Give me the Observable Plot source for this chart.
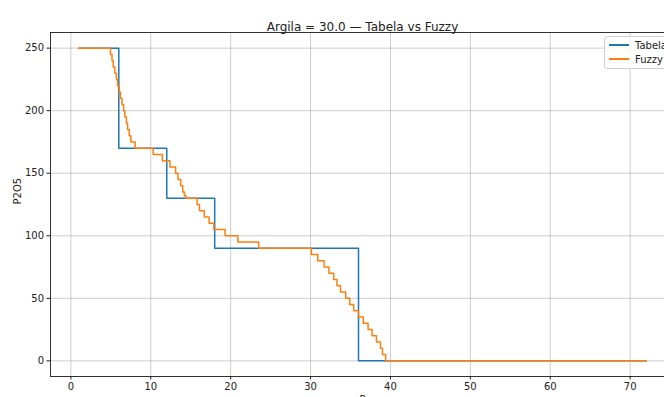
<!DOCTYPE html>
<html>
<head>
<meta charset="utf-8">
<script src="https://cdn.jsdelivr.net/npm/d3@7"></script>
<script src="https://cdn.jsdelivr.net/npm/@observablehq/plot@0.6"></script>
<style>
  html, body { margin: 0; padding: 0; background: #fff; overflow: hidden; width: 664px; height: 397px; }
  #wrap { position: relative; width: 664px; height: 397px; overflow: hidden; }
  #chart svg { max-width: none !important; display: block; }
  #legend { position: absolute; left: 604px; top: 36px; width: 80px; height: 31px; background: rgba(255,255,255,0.8);
            border: 1px solid #d0d0d0; border-radius: 3px; font: 10px "DejaVu Sans", sans-serif; color: #222; }
  .row { position: absolute; left: 4px; height: 12px; display: flex; align-items: center; }
  .sw { width: 20px; height: 2px; margin-right: 6px; }
</style>
</head>
<body>
<div id="wrap">
  <div id="chart"></div>
  <div id="legend">
    <div class="row" style="top:2px"><div class="sw" style="background:#1f77b4"></div><span>Tabela</span></div>
    <div class="row" style="top:16px"><div class="sw" style="background:#ff7f0e"></div><span>Fuzzy</span></div>
  </div>
</div>
<script>
const title = "Argila = 30.0 — Tabela vs Fuzzy";
const xLabel = "P";
const yLabel = "P2O5";
const xTicks = [0, 10, 20, 30, 40, 50, 60, 70];
const yTicks = [0, 50, 100, 150, 200, 250];

// Tabela (step-after breakpoints)
const tabelaX = [1, 6, 12, 18, 36, 72];
const tabelaY = [250, 170, 130, 90, 0, 0];

// Fuzzy (step-after breakpoints)
const fuzzyX = [1, 4.95, 5.15, 5.3, 5.5, 5.7, 5.85, 6.05, 6.2, 6.4, 6.6, 6.75, 6.95, 7.1, 7.3, 7.5, 7.7, 8.05,
  10.3, 11.45, 12.4, 13.1, 13.4, 13.75, 14.0, 14.2, 14.4,
  15.8, 16.1, 16.7, 17.3, 17.9, 19.3, 20.9, 23.5,
  30.1, 30.9, 31.7, 32.3, 32.9, 33.3, 33.75, 34.4, 34.9, 35.4, 36.0, 36.6, 37.2, 37.7, 38.25, 38.75, 39.0, 39.4, 72];
const fuzzyY = [250, 245, 240, 235, 230, 225, 220, 215, 210, 205, 200, 195, 190, 185, 180, 175, 175, 170,
  165, 160, 155, 150, 145, 140, 135, 132, 130,
  125, 120, 115, 110, 105, 100, 95, 90,
  85, 80, 75, 70, 65, 60, 55, 50, 45, 40, 35, 30, 25, 20, 15, 10, 5, 0, 0];

const tabela = tabelaX.map((x, i) => ({x, y: tabelaY[i]}));
const fuzzy = fuzzyX.map((x, i) => ({x, y: fuzzyY[i]}));

const font = "DejaVu Sans, sans-serif";
const chart = Plot.plot({
  width: 720,
  height: 410,
  marginLeft: 50,
  marginRight: 46,
  marginTop: 32,
  marginBottom: 34,
  style: {fontFamily: font, fontSize: "10px", color: "#222", background: "#fff", maxWidth: "none"},
  x: {domain: [-2.55, 75.55]},
  y: {domain: [-12.5, 262.5]},
  marks: [
    Plot.gridX(xTicks, {stroke: "#b0b0b0", strokeOpacity: 0.8, strokeWidth: 0.8}),
    Plot.gridY(yTicks, {stroke: "#b0b0b0", strokeOpacity: 0.8, strokeWidth: 0.8}),
    Plot.axisX(xTicks, {tickSize: 3.5, tickPadding: 3, label: null, fontSize: 10}),
    Plot.axisY(yTicks, {tickSize: 3.5, tickPadding: 3, label: null, fontSize: 10}),
    Plot.line(tabela, {x: "x", y: "y", curve: "step-after", stroke: "#1f77b4", strokeWidth: 1.5}),
    Plot.line(fuzzy, {x: "x", y: "y", curve: "step-after", stroke: "#ff7f0e", strokeWidth: 1.5}),
    Plot.frame({stroke: "#000", strokeWidth: 0.8}),
    Plot.text([title], {frameAnchor: "top", dy: -10, fontSize: 12, text: d => d, fill: "#222"}),
    Plot.text([yLabel], {frameAnchor: "left", dx: -33, rotate: -90, fontSize: 10, text: d => d, fill: "#222"}),
    Plot.text([xLabel], {frameAnchor: "bottom", dy: 19, lineAnchor: "top", fontSize: 10, text: d => d, fill: "#222"})
  ]
});
document.getElementById("chart").appendChild(chart);
</script>
</body>
</html>
